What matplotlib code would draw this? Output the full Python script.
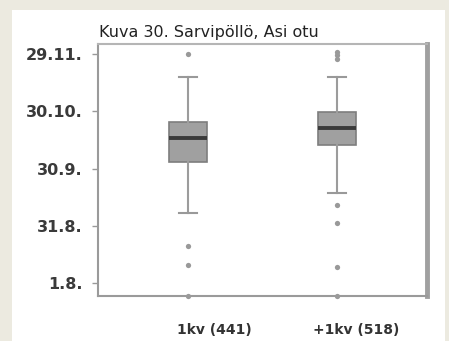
import matplotlib
matplotlib.use("Agg")
import matplotlib.pyplot as plt
from matplotlib.patches import Rectangle

# Values: days after 1.8. (0 = 1.8., 30 = 31.8., 60 = 30.9., 90 = 30.10., 120 = 29.11.)
categories = ["1kv (441)", "+1kv (518)"]
whislo = [36.7, 47.2]
q1 = [63.4, 72.3]
med = [76.0, 81.2]
q3 = [84.4, 89.6]
whishi = [108.0, 108.0]
fliers = [[120.0, 19.4, 9.4, -7.0], [121.0, 119.5, 117.4, 40.9, 31.4, 8.4, -7.0]]
tick_values = [0, 30, 60, 90, 120]
tick_labels = ["1.8.", "31.8.", "30.9.", "30.10.", "29.11."]
title = "Kuva 30. Sarvipöllö, Asi otu"

W, H = 449, 341
fig = plt.figure(figsize=(W / 100, H / 100), dpi=100)
fig.patch.set_facecolor("#ECEAE0")
fig.patches.append(Rectangle((12 / W, 0), (445 - 12) / W, (H - 10) / H,
                             transform=fig.transFigure, facecolor="white",
                             edgecolor="none", zorder=-5))

ax = fig.add_axes([98 / W, (H - 296) / H, (427 - 98) / W, (296 - 44) / H])
ax.set_zorder(2)
ax.set_facecolor("white")

stats = []
for i in range(len(categories)):
    stats.append(dict(whislo=whislo[i], q1=q1[i], med=med[i], q3=q3[i],
                      whishi=whishi[i], fliers=fliers[i], label=categories[i]))
positions = list(range(1, len(categories) + 1))
bp = ax.bxp(stats, positions=positions, widths=0.255, patch_artist=True,
            boxprops=dict(facecolor="#A0A0A0", edgecolor="#7E7E7E", linewidth=1.2),
            medianprops=dict(color="#3A3A3A", linewidth=2.8),
            whiskerprops=dict(color="#9C9C9C", linewidth=1.5),
            capprops=dict(color="#999999", linewidth=1.5),
            flierprops=dict(marker="o", markersize=3.8, markerfacecolor="#999999",
                            markeredgecolor="none"))
for fl in bp["fliers"]:
    fl.set_clip_on(False)
for c in bp["caps"]:
    xd = c.get_xdata()
    cx = (xd[0] + xd[1]) / 2
    c.set_xdata([cx - 0.06, cx + 0.06])

ax.set_xlim(0.396, 2.604)
ax.set_ylim(-6.8, 125.3)
ax.set_yticks(tick_values)
ax.set_yticklabels(tick_labels, fontsize=11.5, fontweight="bold", color="#3A3A3A",
                   family="DejaVu Sans")
ax.tick_params(axis="y", length=4, width=1, color="#999999", pad=7)
ax.set_xticks(positions)
ax.set_xticklabels([""] * len(categories))
ax.tick_params(axis="x", length=0)

for i, lab in enumerate(categories):
    ax.text(positions[i] + (0.175 if i == 0 else 0.128), -0.135, lab,
            transform=ax.get_xaxis_transform(), ha="center", va="center",
            fontsize=10, fontweight="bold", color="#333333", family="DejaVu Sans")

for s in ["left", "bottom"]:
    ax.spines[s].set_color("#9A9A9A")
    ax.spines[s].set_linewidth(1.5)
ax.spines["top"].set_color("#B5B5B5")
ax.spines["top"].set_linewidth(1.5)
ax.spines["right"].set_color("#A0A0A0")
ax.spines["right"].set_linewidth(3.5)

fig.text(99 / W, (H - 32) / H, title, fontsize=11.5, color="#222222",
         family="DejaVu Sans", ha="left", va="center")

fig.savefig("out.png", dpi=100, facecolor=fig.get_facecolor())
